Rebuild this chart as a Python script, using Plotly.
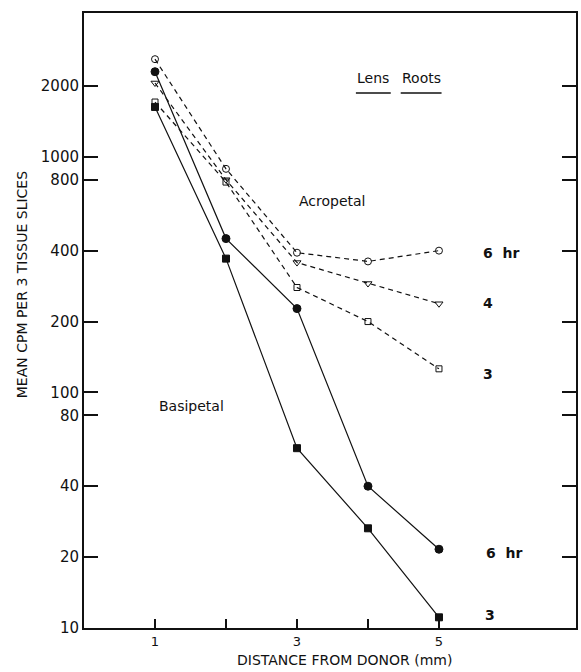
import math
import plotly.graph_objects as go

distance = [1, 2, 3, 4, 5]
x_tick_vals = [1, 2, 3, 4, 5]
x_tick_text = ["1", "", "3", "", "5"]
y_tick_vals = [10, 20, 40, 80, 100, 200, 400, 800, 1000, 2000]
y_tick_text = ["10", "20", "40", "80", "100", "200", "400", "800", "1000", "2000"]

basi_6hr = [2300, 450, 227, 40, 21.6]
basi_3hr = [1630, 370, 58, 26.5, 11.1]
acro_6hr = [2600, 890, 392, 360, 400]
acro_4hr = [2060, 800, 356, 290, 238]
acro_3hr = [1710, 782, 279, 200, 126]

FONT = "DejaVu Sans"
BLACK = "#111111"

fig = go.Figure()

def add(y, symbol, size, dash, name):
    fig.add_trace(go.Scatter(
        x=distance, y=y, mode="lines+markers", name=name,
        line=dict(color=BLACK, width=1.2, dash=dash),
        marker=dict(symbol=symbol, size=size, color=BLACK,
                    line=dict(color=BLACK, width=1)),
        showlegend=False,
    ))

add(acro_6hr, "circle-open", 7, "5px,4px", "Acropetal 6 hr")
add(acro_4hr, "triangle-down-open", 7, "5px,4px", "Acropetal 4 hr")
add(acro_3hr, "square-open", 6, "5px,4px", "Acropetal 3 hr")
add(basi_6hr, "circle", 8, "solid", "Basipetal 6 hr")
add(basi_3hr, "square", 7, "solid", "Basipetal 3 hr")

fig.update_xaxes(
    range=[0, 6.93], tickvals=x_tick_vals, ticktext=x_tick_text,
    ticks="inside", ticklen=9, tickwidth=1.5, tickcolor=BLACK,
    showline=True, linecolor=BLACK, linewidth=2, mirror=True,
    showgrid=False, zeroline=False,
    tickfont=dict(family=FONT, size=13, color=BLACK),
)
fig.update_yaxes(
    type="log", range=[1, 3.611], tickvals=y_tick_vals, ticktext=y_tick_text,
    ticks="inside", ticklen=14, tickwidth=1.5, tickcolor=BLACK,
    showline=True, linecolor=BLACK, linewidth=2, mirror="ticks",
    showgrid=False, zeroline=False,
    tickfont=dict(family=FONT, size=15, color=BLACK),
)

ann_font = dict(family=FONT, size=14, color=BLACK)
annotations = [
    dict(x=5.88, y=390, text="<b>6  hr</b>"),
    dict(x=5.69, y=240, text="<b>4</b>"),
    dict(x=5.69, y=120, text="<b>3</b>"),
    dict(x=5.91, y=20.8, text="<b>6  hr</b>"),
    dict(x=5.72, y=11.4, text="<b>3</b>"),
    dict(x=3.5, y=650, text="Acropetal"),
    dict(x=1.52, y=88, text="Basipetal"),
]
for a in annotations:
    fig.add_annotation(xref="x", yref="y", showarrow=False, font=ann_font,
                       xanchor="center", yanchor="middle",
                       x=a["x"], y=math.log10(a["y"]), text=a["text"])

# "Lens  Roots" header with underlines (paper coords)
fig.add_annotation(xref="paper", yref="paper", x=(374 - 84) / 494, y=(628 - 78) / 615,
                   text="Lens", showarrow=False, font=ann_font, xanchor="center", yanchor="middle")
fig.add_annotation(xref="paper", yref="paper", x=(423 - 84) / 494, y=(628 - 78) / 615,
                   text="Roots", showarrow=False, font=ann_font, xanchor="center", yanchor="middle")
for x0, x1 in [(357, 392), (402, 443)]:
    fig.add_shape(type="line", xref="paper", yref="paper",
                  x0=(x0 - 84) / 494, x1=(x1 - 84) / 494,
                  y0=(628 - 93) / 615, y1=(628 - 93) / 615,
                  line=dict(color=BLACK, width=1.5))

# Axis titles
fig.add_annotation(xref="paper", yref="paper", x=(346 - 84) / 494, y=(628 - 660) / 615,
                   text="DISTANCE FROM DONOR (mm)", showarrow=False,
                   font=dict(family=FONT, size=14, color=BLACK), xanchor="center", yanchor="middle")
fig.add_annotation(xref="paper", yref="paper", x=(22 - 84) / 494, y=(628 - 285) / 615,
                   text="MEAN CPM PER 3 TISSUE SLICES", showarrow=False, textangle=-90,
                   font=dict(family=FONT, size=14, color=BLACK), xanchor="center", yanchor="middle")

fig.update_layout(
    width=581, height=672,
    margin=dict(l=84, r=3, t=13, b=44),
    paper_bgcolor="white", plot_bgcolor="white",
    font=dict(family=FONT, color=BLACK),
)

fig.write_html("out.html", config={"displayModeBar": False},
               post_script="document.body.style.margin='0px';")
